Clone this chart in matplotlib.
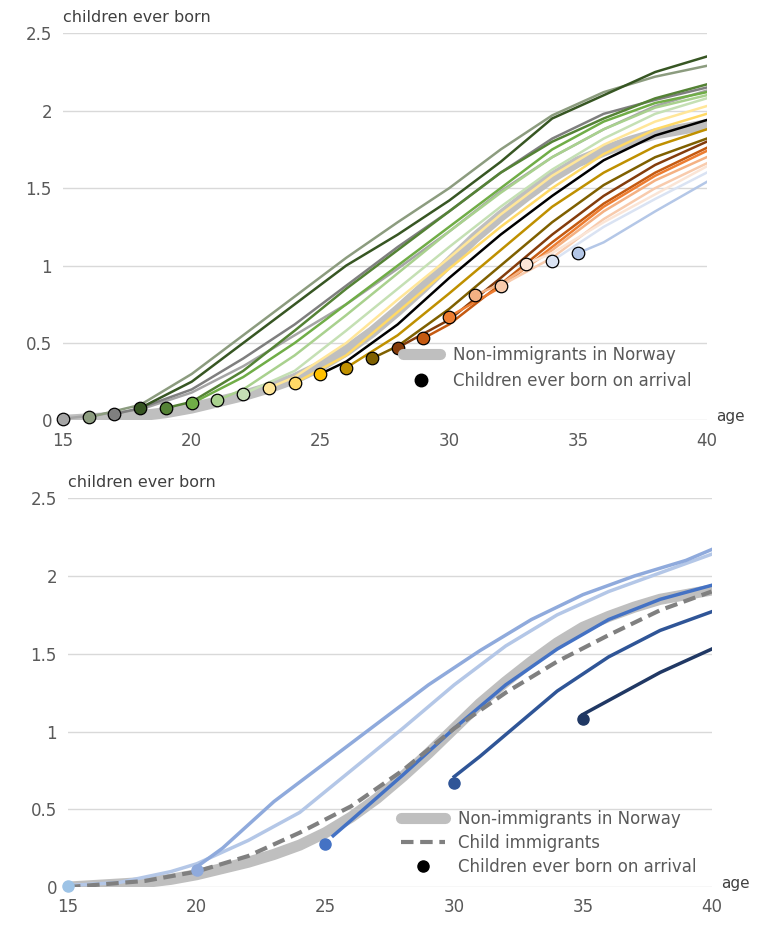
import matplotlib
matplotlib.use("Agg")
import matplotlib.pyplot as plt
from matplotlib.lines import Line2D

# Non-immigrants
n_ages = list(range(15, 41))
n_vals = [0, 0.01, 0.02, 0.03, 0.05, 0.08, 0.12, 0.16, 0.21, 0.27, 0.35, 0.45, 0.57, 0.71, 0.86,
          1.02, 1.18, 1.32, 1.45, 1.57, 1.67, 1.74, 1.80, 1.85, 1.88, 1.91]

# Top panel: arrival age -> (ages, values, colour)
top_lines = {
    15: ([15, 18, 20, 22, 24, 26, 28, 30, 32, 34, 36, 38, 40], [0.01, 0.07, 0.18, 0.35, 0.55, 0.75, 0.98, 1.22, 1.48, 1.70, 1.88, 2.03, 2.13], "#a5a5a5"),
    16: ([16, 18, 20, 22, 24, 26, 28, 30, 32, 34, 36, 38, 40], [0.02, 0.10, 0.30, 0.55, 0.80, 1.05, 1.28, 1.50, 1.75, 1.97, 2.12, 2.22, 2.29], "#8c9c7f"),
    17: ([17, 18, 20, 22, 24, 26, 28, 30, 32, 34, 36, 38, 40], [0.04, 0.08, 0.20, 0.40, 0.62, 0.87, 1.12, 1.35, 1.60, 1.82, 1.98, 2.07, 2.15], "#7f7f7f"),
    18: ([18, 20, 22, 24, 26, 28, 30, 32, 34, 36, 38, 40], [0.08, 0.25, 0.50, 0.75, 1.00, 1.20, 1.42, 1.67, 1.95, 2.10, 2.25, 2.35], "#375623"),
    19: ([19, 20, 22, 24, 26, 28, 30, 32, 34, 36, 38, 40], [0.08, 0.12, 0.32, 0.58, 0.85, 1.10, 1.35, 1.60, 1.80, 1.95, 2.08, 2.17], "#548235"),
    20: ([20, 22, 24, 26, 28, 30, 32, 34, 36, 38, 40], [0.11, 0.28, 0.50, 0.75, 1.00, 1.25, 1.50, 1.75, 1.93, 2.05, 2.12], "#70ad47"),
    21: ([21, 22, 24, 26, 28, 30, 32, 34, 36, 38, 40], [0.13, 0.20, 0.42, 0.68, 0.95, 1.22, 1.47, 1.70, 1.88, 2.02, 2.10], "#a9d18e"),
    22: ([22, 24, 26, 28, 30, 32, 34, 36, 38, 40], [0.17, 0.32, 0.58, 0.85, 1.12, 1.38, 1.62, 1.82, 1.98, 2.08], "#c5e0b4"),
    23: ([23, 24, 26, 28, 30, 32, 34, 36, 38, 40], [0.21, 0.28, 0.50, 0.78, 1.05, 1.33, 1.58, 1.78, 1.93, 2.03], "#ffe699"),
    24: ([24, 26, 28, 30, 32, 34, 36, 38, 40], [0.24, 0.42, 0.70, 0.98, 1.25, 1.50, 1.72, 1.88, 1.98], "#ffd966"),
    25: ([25, 26, 28, 30, 32, 34, 36, 38, 40], [0.30, 0.38, 0.62, 0.92, 1.20, 1.45, 1.68, 1.84, 1.94], "#000000"),
    26: ([26, 28, 30, 32, 34, 36, 38, 40], [0.34, 0.55, 0.82, 1.10, 1.38, 1.60, 1.77, 1.88], "#bf9000"),
    27: ([27, 28, 30, 32, 34, 36, 38, 40], [0.40, 0.48, 0.72, 1.00, 1.28, 1.52, 1.70, 1.82], "#7f6000"),
    28: ([28, 30, 32, 34, 36, 38, 40], [0.47, 0.65, 0.92, 1.20, 1.45, 1.65, 1.80], "#843c0c"),
    29: ([29, 30, 32, 34, 36, 38, 40], [0.53, 0.62, 0.88, 1.15, 1.40, 1.60, 1.76], "#c55a11"),
    30: ([30, 32, 34, 36, 38, 40], [0.67, 0.86, 1.12, 1.38, 1.58, 1.74], "#ed7d31"),
    31: ([31, 32, 34, 36, 38, 40], [0.81, 0.88, 1.10, 1.35, 1.55, 1.70], "#f4b183"),
    32: ([32, 34, 36, 38, 40], [0.87, 1.05, 1.30, 1.50, 1.66], "#f8cbad"),
    33: ([33, 34, 36, 38, 40], [1.01, 1.08, 1.28, 1.46, 1.64], "#fbe5d6"),
    34: ([34, 36, 38, 40], [1.03, 1.25, 1.43, 1.60], "#dae3f3"),
    35: ([35, 36, 38, 40], [1.08, 1.15, 1.35, 1.54], "#b4c7e7"),
}
top_marker_colors = {25: "#ffc000"}

# Bottom panel
child_ages = [15, 18, 20, 22, 24, 26, 28, 30, 32, 34, 36, 38, 40]
child_vals = [0.0, 0.04, 0.10, 0.20, 0.35, 0.52, 0.75, 1.02, 1.25, 1.45, 1.62, 1.78, 1.90]
bot_lines = {
    15: ([15, 17, 19, 20, 22, 24, 26, 28, 30, 32, 34, 36, 38, 40], [0.01, 0.03, 0.10, 0.15, 0.30, 0.48, 0.75, 1.02, 1.30, 1.55, 1.75, 1.90, 2.02, 2.14], "#b4c7e7", "#9dc3e6"),
    20: ([20, 21, 23, 25, 27, 29, 31, 33, 35, 37, 39, 40], [0.13, 0.25, 0.55, 0.80, 1.05, 1.30, 1.52, 1.72, 1.88, 2.00, 2.10, 2.17], "#8faadc", "#8faadc"),
    25: ([25.3, 26, 28, 30, 32, 34, 36, 38, 40], [0.33, 0.43, 0.72, 1.02, 1.30, 1.53, 1.72, 1.85, 1.94], "#4472c4", "#4472c4"),
    30: ([30, 31, 32, 34, 36, 38, 40], [0.71, 0.84, 0.98, 1.26, 1.48, 1.65, 1.77], "#2f5597", "#2f5597"),
    35: ([35, 36, 38, 40], [1.11, 1.20, 1.38, 1.53], "#203864", "#203864"),
}
bot_markers = {15: 0.01, 20: 0.11, 25: 0.28, 30: 0.67, 35: 1.08}

TXT = "#595959"
fig = plt.figure(figsize=(7.59, 9.26), dpi=100)
ax1 = fig.add_axes([0.083, 0.546, 0.848, 0.418])
ax2 = fig.add_axes([0.0896, 0.042, 0.848, 0.42])

def style(ax):
    ax.set_xlim(15, 40)
    ax.set_ylim(0, 2.5)
    ax.set_xticks([15, 20, 25, 30, 35, 40])
    ax.set_yticks([0, 0.5, 1, 1.5, 2, 2.5])
    ax.set_yticklabels(["0", "0.5", "1", "1.5", "2", "2.5"])
    for s in ax.spines.values():
        s.set_visible(False)
    ax.grid(axis="y", color="#d9d9d9", lw=1)
    ax.set_axisbelow(True)
    ax.tick_params(length=0, labelsize=12, colors=TXT, pad=8)
    ax.text(0, 1.03, "children ever born", transform=ax.transAxes, fontsize=11.5, color="#404040")
    ax.text(1.015, 0.01, "age", transform=ax.transAxes, fontsize=11, color="#404040", va="center")

style(ax1)
ax1.plot(n_ages, n_vals, color="#bfbfbf", lw=8, solid_capstyle="round", zorder=2)
for a, (xs, ys, c) in top_lines.items():
    ax1.plot(xs, ys, color=c, lw=1.8, zorder=3)
for a, (xs, ys, c) in top_lines.items():
    ax1.plot([xs[0]], [ys[0]], "o", ms=9, mfc=top_marker_colors.get(a, c), mec="black", mew=0.9, zorder=5, clip_on=False)
h1 = [Line2D([], [], color="#bfbfbf", lw=8, solid_capstyle="round"),
      Line2D([], [], marker="o", ls="", ms=9, color="black")]
ax1.legend(h1, ["Non-immigrants in Norway", "Children ever born on arrival"], loc="lower right",
           bbox_to_anchor=(1.0, 0.04), frameon=False, fontsize=12, labelcolor=TXT, handlelength=2.2)

style(ax2)
ax2.plot(n_ages, n_vals, color="#bfbfbf", lw=8, solid_capstyle="round", zorder=2)
for a, (xs, ys, c, mc) in bot_lines.items():
    ax2.plot(xs, ys, color=c, lw=2.5, zorder=3)
ax2.plot(child_ages, child_vals, color="#808080", lw=3, ls=(0, (3, 1.6)), zorder=4)
for a, (xs, ys, c, mc) in bot_lines.items():
    ax2.plot([a], [bot_markers[a]], "o", ms=8, color=mc, zorder=5, clip_on=False)
h2 = [Line2D([], [], color="#bfbfbf", lw=8, solid_capstyle="round"),
      Line2D([], [], color="#808080", lw=3, ls=(0, (3, 1.6))),
      Line2D([], [], marker="o", ls="", ms=8, color="black")]
ax2.legend(h2, ["Non-immigrants in Norway", "Child immigrants", "Children ever born on arrival"],
           loc="lower right", bbox_to_anchor=(1.0, -0.01), frameon=False, fontsize=12,
           labelcolor=TXT, handlelength=2.6, labelspacing=0.35)

fig.savefig("out.png", dpi=100)
